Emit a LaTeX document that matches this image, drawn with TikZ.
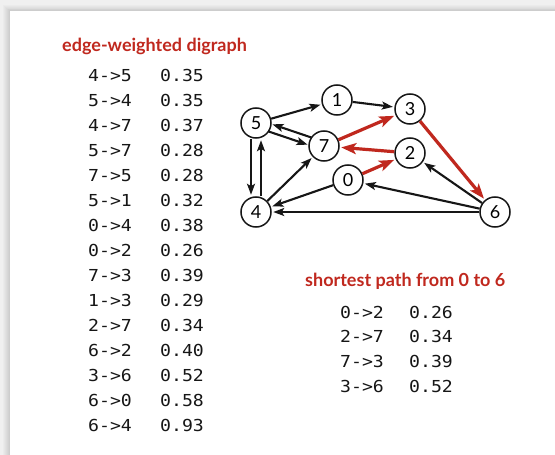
\documentclass[tikz,border=0pt]{standalone}
\usepackage{fontspec}
\setmainfont{Lato}
\newfontfamily\monof[FakeStretch=1.1]{DejaVu Sans Mono}
\usetikzlibrary{arrows.meta,calc}
\definecolor{pathred}{RGB}{192,40,30}
\definecolor{ink}{RGB}{22,22,22}
\definecolor{pagegrey}{RGB}{240,240,240}

\begin{document}
\begin{tikzpicture}[x=1pt,y=-1pt,
  vertex/.style={circle,draw=ink,line width=1.5pt,minimum size=30pt,inner sep=0pt,
    fill=white,font=\fontsize{18}{18}\selectfont},
  edge/.style={draw=ink,line width=2.1pt,
    -{Stealth[length=11pt,width=8pt,inset=2.5pt]},shorten >=1.5pt},
  spt/.style={draw=pathred,line width=3.2pt,
    -{Stealth[length=15pt,width=11pt,inset=3.5pt]},shorten >=1.5pt},
  heading/.style={anchor=base west,inner sep=0pt,text=pathred,
    font=\fontsize{18}{18}\selectfont\bfseries},
  row/.style={anchor=base west,inner sep=0pt,text=ink,
    font=\fontsize{16.5}{16.5}\monof}]

\useasboundingbox (0,0) rectangle (555,455);
% page and panel with a soft shadow
\fill[pagegrey] (0,0) rectangle (555,455);
\foreach \d in {1,...,7}
  \fill[black,opacity=0.018] (10-\d,11-0.8*\d) rectangle (555,455);
\fill[white] (10,11) rectangle (555,455);

% vertices
\node[vertex] (v5) at (256,123) {5};
\node[vertex] (v1) at (337,100) {1};
\node[vertex] (v3) at (410,109) {3};
\node[vertex] (v7) at (324,146) {7};
\node[vertex] (v2) at (410,153) {2};
\node[vertex] (v0) at (348,180) {0};
\node[vertex] (v4) at (256,212) {4};
\node[vertex] (v6) at (495,212) {6};

% edges
\draw[edge] ([xshift=-5pt]v5.south) -- ([xshift=-5pt]v4.north);
\draw[edge] ([xshift=5pt]v4.north) -- ([xshift=5pt]v5.south);
\draw[edge,shorten <=14.5pt,shorten >=16pt]
  ($(v7)!4pt!-90:(v5)$) -- ($(v5)!4pt!90:(v7)$);
\draw[edge,shorten <=14.5pt,shorten >=16pt]
  ($(v5)!4pt!-90:(v7)$) -- ($(v7)!4pt!90:(v5)$);
\draw[edge] (v5) -- (v1);
\draw[edge] (v1) -- (v3);
\draw[edge] (v4) -- (v7);
\draw[edge] (v0) -- (v4);
\draw[edge] (v6) -- (v2);
\draw[edge] (v6) -- (v0);
\draw[edge] (v6) -- (v4);
% shortest path from 0 to 6
\draw[spt] (v0) -- (v2);
\draw[spt] (v2) -- (v7);
\draw[spt] (v7) -- (v3);
\draw[spt] (v3) -- (v6);

% edge list
\node[heading] (t1) at (62,52) {edge-weighted digraph};
\foreach \e/\w [count=\i from 0] in {4->5/0.35,5->4/0.35,4->7/0.37,5->7/0.28,
    7->5/0.28,5->1/0.32,0->4/0.38,0->2/0.26,7->3/0.39,1->3/0.29,2->7/0.34,
    6->2/0.40,3->6/0.52,6->0/0.58,6->4/0.93}{
  \node[row] (e\i) at (88,81.7+25*\i) {\e};
  \node[row] (w\i) at (160,81.7+25*\i) {\w};
}

% path list
\node[heading] (t2) at (305,286) {shortest path from 0 to 6};
\foreach \e/\w [count=\i from 0] in {0->2/0.26,2->7/0.34,7->3/0.39,3->6/0.52}{
  \node[row] (pe\i) at (340,318+24.8*\i) {\e};
  \node[row] (pw\i) at (409,318+24.8*\i) {\w};
}
\end{tikzpicture}
\end{document}
